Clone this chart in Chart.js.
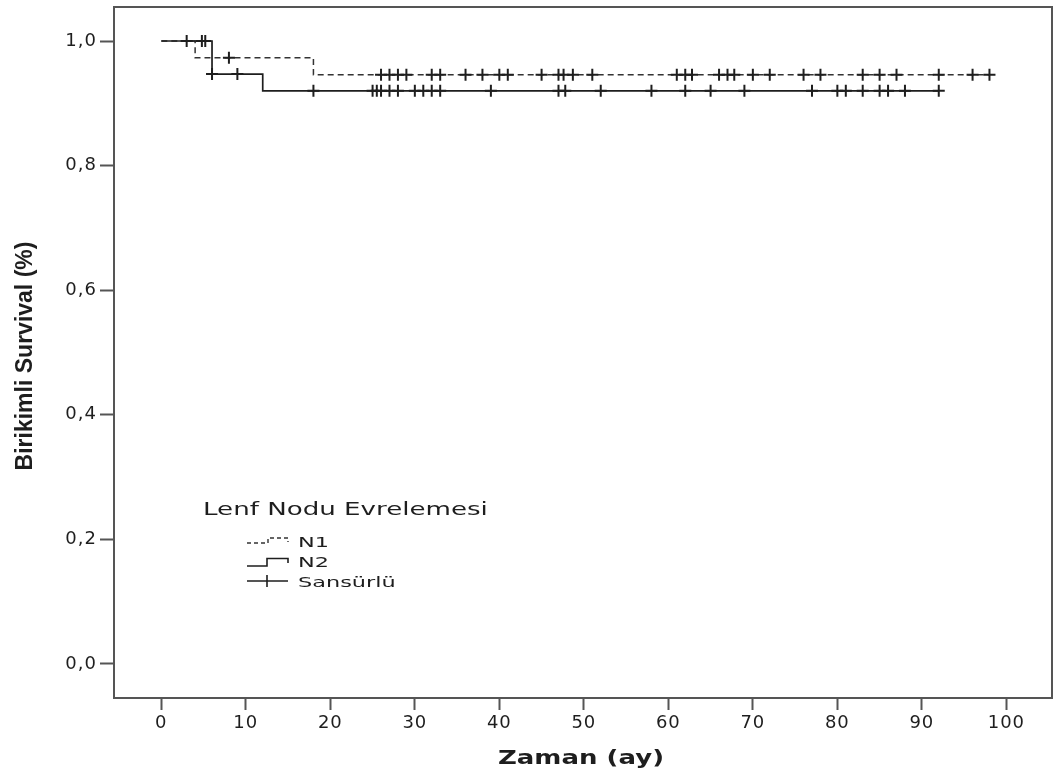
<!DOCTYPE html>
<html>
<head>
<meta charset="utf-8">
<script src="https://cdn.jsdelivr.net/npm/chart.js@4/dist/chart.umd.min.js"></script>
<style>
html,body{margin:0;padding:0;background:#fff;overflow:hidden}
#wrap{width:1053px;height:778px;position:relative}
</style>
</head>
<body>
<div id="wrap"><canvas id="c" width="1053" height="778"></canvas></div>
<script>
// ---- data ----
const xTickValues = [0, 10, 20, 30, 40, 50, 60, 70, 80, 90, 100];
const yTickValues = [0, 0.2, 0.4, 0.6, 0.8, 1.0];
const yTickLabels = ['0,0', '0,2', '0,4', '0,6', '0,8', '1,0'];

const groupNames = ['N1', 'N2'];
const censorLabel = 'Sansürlü';
const legendTitle = 'Lenf Nodu Evrelemesi';
const xTitle = 'Zaman (ay)';
const yTitle = 'Birikimli Survival (%)';

// Kaplan-Meier steps: event times and survival after each event
const n1EventTimes = [0, 4, 18];
const n1Survival   = [1.0, 0.973, 0.946];
const n2EventTimes = [0, 6, 12];
const n2Survival   = [1.0, 0.947, 0.920];

// censored observation times
const n1CensorTimes = [3, 8, 26, 27, 28, 29, 32, 33, 36, 38, 40, 41, 45, 47, 47.6, 48.7, 51,
  61, 62, 62.8, 66, 67, 67.8, 70, 72, 76, 78, 83, 85, 87, 92, 96, 98];
const n2CensorTimes = [4.8, 5.2, 6, 9, 18, 25, 25.5, 26, 27, 28, 30, 31, 32, 33, 39, 47, 47.8,
  52, 58, 62, 65, 69, 77, 80, 81, 83, 85, 86, 88, 92];

// ---- helpers ----
function survivalAt(times, surv, t) {
  let s = surv[0];
  for (let i = 0; i < times.length; i++) { if (times[i] <= t) s = surv[i]; }
  return s;
}
function stepPoints(times, surv, censor) {
  const pts = times.map((t, i) => ({x: t, y: surv[i]}));
  const last = Math.max(...censor);
  if (last > times[times.length - 1]) pts.push({x: last, y: surv[surv.length - 1]});
  return pts;
}
function censorPoints(times, surv, censor) {
  return censor.map(t => ({x: t, y: survivalAt(times, surv, t)}));
}

const INK = '#1e1e1e';
const AXIS = '#555';

function stretchText(ctx, text, x, y, sx, align) {
  ctx.save();
  ctx.translate(x, y);
  ctx.scale(sx, 1);
  ctx.textAlign = align;
  ctx.textBaseline = 'alphabetic';
  ctx.fillText(text, 0, 0);
  ctx.restore();
}

function noPad(s) {
  s.paddingTop = 0; s.paddingBottom = 0; s.paddingLeft = 0; s.paddingRight = 0;
}

const decorPlugin = {
  id: 'decor',
  beforeDraw(chart) {
    try { chart.ctx.letterSpacing = '1px'; } catch (e) {}
  },
  beforeDatasetsDraw(chart) {
    const ctx = chart.ctx, a = chart.chartArea;
    ctx.save();
    ctx.strokeStyle = AXIS;
    ctx.lineWidth = 2;
    ctx.strokeRect(a.left, a.top, a.right - a.left, a.bottom - a.top);
    ctx.restore();
  },
  afterDraw(chart) {
    const ctx = chart.ctx, a = chart.chartArea;
    try { ctx.letterSpacing = '0px'; } catch (e) {}
    ctx.save();
    ctx.fillStyle = INK;
    // x title
    ctx.font = 'bold 20px "DejaVu Sans"';
    stretchText(ctx, xTitle, (a.left + a.right) / 2 - 2, 764, 1.3, 'center');
    // y title
    ctx.save();
    ctx.translate(32, 356);
    ctx.rotate(-Math.PI / 2);
    ctx.font = 'bold 23px "Liberation Sans"';
    ctx.textAlign = 'center';
    ctx.textBaseline = 'alphabetic';
    ctx.fillText(yTitle, 0, 0);
    ctx.restore();

    // legend
    ctx.font = '18px "DejaVu Sans"';
    stretchText(ctx, legendTitle, 203, 515, 1.45, 'left');
    ctx.font = '14px "DejaVu Sans"';
    const tx = 298, s0 = 247, s1 = 288, sm = 267;
    stretchText(ctx, groupNames[0], tx, 547, 1.6, 'left');
    stretchText(ctx, groupNames[1], tx, 567, 1.6, 'left');
    stretchText(ctx, censorLabel, tx, 587, 1.6, 'left');

    ctx.strokeStyle = '#333';
    ctx.lineWidth = 1.4;
    ctx.setLineDash([4, 3]);
    ctx.beginPath();
    ctx.moveTo(s0, 543); ctx.lineTo(sm + 1, 543); ctx.lineTo(sm + 1, 538);
    ctx.lineTo(s1, 538); ctx.lineTo(s1, 542);
    ctx.stroke();
    ctx.setLineDash([]);
    ctx.strokeStyle = INK;
    ctx.lineWidth = 1.6;
    ctx.beginPath();
    ctx.moveTo(s0, 566); ctx.lineTo(sm, 566); ctx.lineTo(sm, 558.5);
    ctx.lineTo(s1, 558.5); ctx.lineTo(s1, 563);
    ctx.stroke();
    ctx.beginPath();
    ctx.moveTo(s0, 581); ctx.lineTo(s1, 581);
    ctx.moveTo(sm, 575); ctx.lineTo(sm, 587);
    ctx.stroke();
    ctx.restore();
  }
};

const ctx = document.getElementById('c').getContext('2d');
new Chart(ctx, {
  type: 'scatter',
  data: {
    datasets: [
      {
        label: groupNames[0] + ' ' + censorLabel,
        data: censorPoints(n1EventTimes, n1Survival, n1CensorTimes),
        showLine: false, pointStyle: 'cross', pointRadius: 6, pointHoverRadius: 6,
        pointBorderColor: INK, pointBorderWidth: 2, order: 0
      },
      {
        label: groupNames[1] + ' ' + censorLabel,
        data: censorPoints(n2EventTimes, n2Survival, n2CensorTimes),
        showLine: false, pointStyle: 'cross', pointRadius: 6, pointHoverRadius: 6,
        pointBorderColor: INK, pointBorderWidth: 2, order: 0
      },
      {
        label: groupNames[1],
        data: stepPoints(n2EventTimes, n2Survival, n2CensorTimes),
        showLine: true, stepped: 'before', pointRadius: 0,
        borderColor: INK, borderWidth: 1.7, fill: false, order: 1
      },
      {
        label: groupNames[0],
        data: stepPoints(n1EventTimes, n1Survival, n1CensorTimes),
        showLine: true, stepped: 'before', pointRadius: 0,
        borderColor: '#333', borderWidth: 1.5, borderDash: [6, 4], fill: false, order: 2
      }
    ]
  },
  options: {
    responsive: false,
    devicePixelRatio: 1,
    animation: false,
    events: [],
    layout: { autoPadding: false, padding: { left: 0, top: 7, right: 1, bottom: 0 } },
    plugins: { legend: { display: false }, tooltip: { enabled: false }, title: { display: false } },
    scales: {
      x: {
        type: 'linear', position: 'bottom',
        min: -5.6, max: 105.4,
        afterBuildTicks: s => { s.ticks = xTickValues.map(v => ({value: v})); },
        afterFit: s => { s.height = 80; noPad(s); },
        ticks: {
          autoSkip: false, maxRotation: 0, padding: 3, color: INK,
          font: { family: '"DejaVu Sans"', size: 18 },
          callback: v => String(v)
        },
        grid: { drawOnChartArea: false, drawTicks: true, tickLength: 12, tickColor: AXIS, tickWidth: 2 },
        border: { display: true, color: AXIS, width: 2 }
      },
      y: {
        type: 'linear', position: 'left',
        min: -0.0546, max: 1.0546,
        afterBuildTicks: s => { s.ticks = yTickValues.map(v => ({value: v})); },
        afterFit: s => { s.width = 114; noPad(s); },
        ticks: {
          autoSkip: false, padding: 3, color: INK,
          font: { family: '"DejaVu Sans"', size: 18 },
          callback: (v, i) => yTickLabels[i]
        },
        grid: { drawOnChartArea: false, drawTicks: true, tickLength: 14, tickColor: AXIS, tickWidth: 2 },
        border: { display: true, color: AXIS, width: 2 }
      }
    }
  },
  plugins: [decorPlugin]
});
</script>
</body>
</html>
